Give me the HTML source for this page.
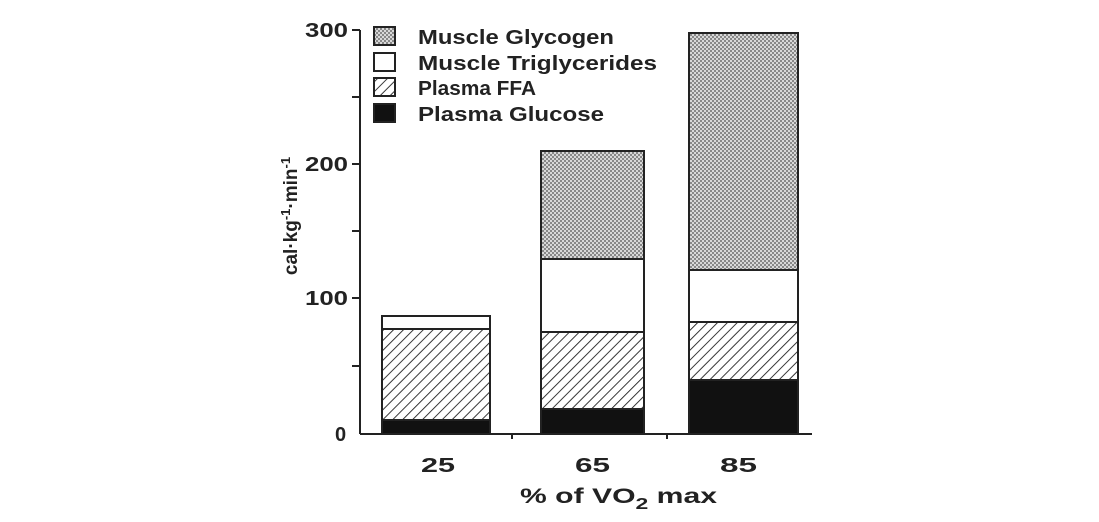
<!DOCTYPE html>
<html><head><style>
body{margin:0;background:#fff}
svg text{font-family:"Liberation Sans",Arial,sans-serif;font-weight:bold;fill:#222}
</style></head><body>
<svg width="1099" height="517" viewBox="0 0 1099 517" xmlns="http://www.w3.org/2000/svg">
<defs>
<pattern id="dots" width="4" height="4" patternUnits="userSpaceOnUse">
<rect width="4" height="4" fill="#d8d8d8"/><rect width="2" height="2" fill="#888"/><rect x="2" y="2" width="2" height="2" fill="#888"/>
</pattern>
<pattern id="hatch" width="7" height="7" patternUnits="userSpaceOnUse" patternTransform="rotate(45)">
<rect width="7" height="7" fill="#fff"/><line x1="0" y1="0" x2="0" y2="7" stroke="#222" stroke-width="1.8"/>
</pattern>
</defs>
<g stroke="#222" stroke-width="2" fill="none">
<line x1="360" y1="30" x2="360" y2="434"/>
<line x1="360" y1="434" x2="812" y2="434"/>
<line x1="352" y1="30" x2="360" y2="30"/>
<line x1="352" y1="164" x2="360" y2="164"/>
<line x1="352" y1="298" x2="360" y2="298"/>
<line x1="352" y1="366" x2="360" y2="366"/>
<line x1="352" y1="97" x2="360" y2="97"/>
<line x1="352" y1="231" x2="360" y2="231"/>
<line x1="512" y1="434" x2="512" y2="439"/>
<line x1="667" y1="434" x2="667" y2="439"/>
</g>
<g stroke="#222" stroke-width="2">
<rect x="382" y="316" width="108" height="13" fill="#fff"/>
<rect x="382" y="329" width="108" height="91" fill="url(#hatch)"/>
<rect x="382" y="420" width="108" height="14" fill="#111"/>
<rect x="541" y="151" width="103" height="108" fill="url(#dots)"/>
<rect x="541" y="259" width="103" height="73" fill="#fff"/>
<rect x="541" y="332" width="103" height="77" fill="url(#hatch)"/>
<rect x="541" y="409" width="103" height="25" fill="#111"/>
<rect x="689" y="33" width="109" height="237" fill="url(#dots)"/>
<rect x="689" y="270" width="109" height="52" fill="#fff"/>
<rect x="689" y="322" width="109" height="58" fill="url(#hatch)"/>
<rect x="689" y="380" width="109" height="54" fill="#111"/>
<rect x="374" y="27" width="21" height="18" fill="url(#dots)"/>
<rect x="374" y="53" width="21" height="18" fill="#fff"/>
<rect x="374" y="78" width="21" height="18" fill="url(#hatch)"/>
<rect x="374" y="104" width="21" height="18" fill="#111"/>
</g>
<g font-size="20">
<text x="418" y="44" textLength="196" lengthAdjust="spacingAndGlyphs">Muscle  Glycogen</text>
<text x="418" y="70" textLength="239" lengthAdjust="spacingAndGlyphs">Muscle  Triglycerides</text>
<text x="418" y="95" textLength="118" lengthAdjust="spacingAndGlyphs">Plasma  FFA</text>
<text x="418" y="121" textLength="186" lengthAdjust="spacingAndGlyphs">Plasma  Glucose</text>
</g>
<g font-size="20">
<text x="305" y="37" textLength="43" lengthAdjust="spacingAndGlyphs">300</text>
<text x="305" y="171" textLength="43" lengthAdjust="spacingAndGlyphs">200</text>
<text x="305" y="305" textLength="43" lengthAdjust="spacingAndGlyphs">100</text>
<text x="335" y="441">0</text>
</g>
<g font-size="20">
<text x="421" y="472" textLength="34" lengthAdjust="spacingAndGlyphs">25</text>
<text x="575" y="472" textLength="35" lengthAdjust="spacingAndGlyphs">65</text>
<text x="720" y="472" textLength="37" lengthAdjust="spacingAndGlyphs">85</text>
</g>
<text x="520" y="503" font-size="21" textLength="197" lengthAdjust="spacingAndGlyphs">%  of  VO<tspan font-size="16" dy="6">2</tspan><tspan dy="-6">  max</tspan></text>
<text font-size="19" text-anchor="middle" transform="translate(297,216) rotate(-90)">cal·kg<tspan font-size="13" dy="-7">-1</tspan><tspan dy="7">·min</tspan><tspan font-size="13" dy="-7">-1</tspan></text>
</svg>
</body></html>
